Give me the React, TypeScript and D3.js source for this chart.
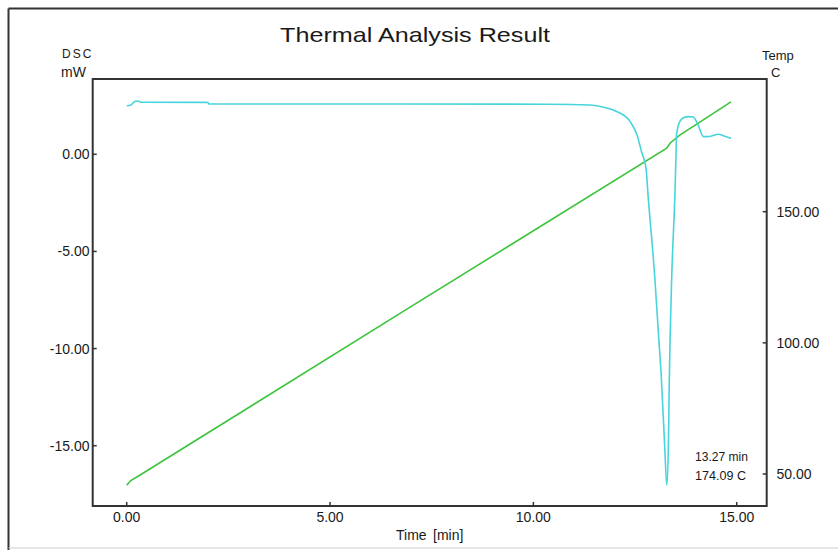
import React from "react";
import * as d3 from "d3";

// DSC signal (mW) vs time (min)
const dscTime = [0.0, 0.106, 0.2, 0.28, 0.35, 2.0, 2.02, 6.72, 10.41, 11.39, 11.76, 12.06, 12.38, 12.55, 12.66, 12.77, 12.82, 12.99, 13.07, 13.15, 13.23, 13.28, 13.32, 13.34, 13.4, 13.48, 13.51, 13.52, 13.6, 13.7, 13.81, 13.93, 14.05, 14.18, 14.34, 14.55, 14.69, 14.86];
const dscValue = [2.5, 2.54, 2.72, 2.74, 2.68, 2.67, 2.59, 2.59, 2.58, 2.54, 2.41, 2.19, 1.68, 0.99, 0.13, -0.71, -2.1, -6.47, -9.05, -11.62, -15.06, -17.03, -15.06, -11.97, -6.47, -2.1, 0.13, 0.99, 1.68, 1.89, 1.94, 1.92, 1.51, 0.91, 0.92, 1.03, 0.94, 0.82];

// Temperature (C) vs time (min)
const tempTime = [0.0, 0.1, 0.33, 6.8, 13.28, 13.36, 13.6, 14.86];
const tempValue = [45.7, 47.5, 49.6, 112.0, 174.2, 176.1, 179.2, 191.9];

const xTicks = [0, 5, 10, 15];
const dscTicks = [-15, -10, -5, 0];
const tempTicks = [50, 100, 150];

const W = 838;
const H = 550;
const L = 92.7;
const R = 766.7;
const T = 79;
const B = 506;

const FONT = "'Liberation Sans', Arial, sans-serif";
const AXIS = "#333";
const TXT = "#1a1a1a";

export default function App() {
  const x = d3.scaleLinear().domain([0, 15]).range([126.7, 736.7]);
  const yL = d3.scaleLinear().domain([0, -15]).range([154.3, 445.7]);
  const yR = d3.scaleLinear().domain([50, 150]).range([474, 211.7]);

  const dscData = dscTime.map((t, i) => [t, dscValue[i]] as [number, number]);
  const tempData = tempTime.map((t, i) => [t, tempValue[i]] as [number, number]);

  const dscLine = d3
    .line<[number, number]>()
    .x((d) => x(d[0]))
    .y((d) => yL(d[1]))
    .curve(d3.curveMonotoneX);
  const tempLine = d3
    .line<[number, number]>()
    .x((d) => x(d[0]))
    .y((d) => yR(d[1]));

  const fmt = (v: number) => v.toFixed(2);

  return (
    <svg
      width={W}
      height={H}
      style={{ position: "absolute", left: 0, top: 0, background: "#fff" }}
      fontFamily={FONT}
    >
      {/* outer frame */}
      <line x1={8.5} y1={8.5} x2={W} y2={8.5} stroke="#333" strokeWidth={2} />
      <line x1={8.5} y1={8.5} x2={8.5} y2={H} stroke="#333" strokeWidth={2} />
      <line x1={8.5} y1={548} x2={W} y2={548} stroke="#ccc" strokeWidth={1} />

      {/* title */}
      <text x={415} y={42} textAnchor="middle" fontSize={21} fill={TXT} textLength={270} lengthAdjust="spacingAndGlyphs">
        Thermal Analysis Result
      </text>

      {/* axis titles */}
      <text x={62} y={58} fontSize={12} fill={TXT} letterSpacing={2}>DSC</text>
      <text x={61} y={77} fontSize={14} fill={TXT}>mW</text>
      <text x={762} y={60} fontSize={13} fill={TXT}>Temp</text>
      <text x={771} y={77} fontSize={13} fill={TXT}>C</text>

      {/* plot frame */}
      <rect x={L} y={T} width={R - L} height={B - T} fill="none" stroke={AXIS} strokeWidth={2} />

      {/* x ticks */}
      {xTicks.map((v) => (
        <g key={"x" + v}>
          <line x1={x(v)} x2={x(v)} y1={B} y2={B - 4} stroke={AXIS} strokeWidth={1.5} />
          <text x={x(v)} y={521.5} textAnchor="middle" fontSize={14} fill={TXT}>
            {fmt(v)}
          </text>
        </g>
      ))}
      <text x={396} y={540} fontSize={14} fill={TXT}>Time</text>
      <text x={433} y={540} fontSize={14} fill={TXT}>[min]</text>

      {/* left ticks */}
      {dscTicks.map((v) => (
        <g key={"l" + v}>
          <line x1={L} x2={L + 4} y1={yL(v)} y2={yL(v)} stroke={AXIS} strokeWidth={1.5} />
          <text x={89.5} y={yL(v) + 5} textAnchor="end" fontSize={14} fill={TXT}>
            {fmt(v)}
          </text>
        </g>
      ))}

      {/* right ticks */}
      {tempTicks.map((v) => (
        <g key={"r" + v}>
          <line x1={R - 4} x2={R} y1={yR(v)} y2={yR(v)} stroke={AXIS} strokeWidth={1.5} />
          <text x={776.5} y={yR(v) + 5} textAnchor="start" fontSize={14} fill={TXT}>
            {fmt(v)}
          </text>
        </g>
      ))}

      {/* series */}
      <path d={tempLine(tempData) || ""} fill="none" stroke="#3cc43c" strokeWidth={1.6} />
      <path d={dscLine(dscData) || ""} fill="none" stroke="#48d4dc" strokeWidth={1.6} />

      {/* annotation */}
      <text x={695} y={461} fontSize={12} fill={TXT} textLength={53} lengthAdjust="spacingAndGlyphs">
        13.27 min
      </text>
      <text x={695} y={480} fontSize={12} fill={TXT} textLength={51} lengthAdjust="spacingAndGlyphs">
        174.09 C
      </text>
    </svg>
  );
}
